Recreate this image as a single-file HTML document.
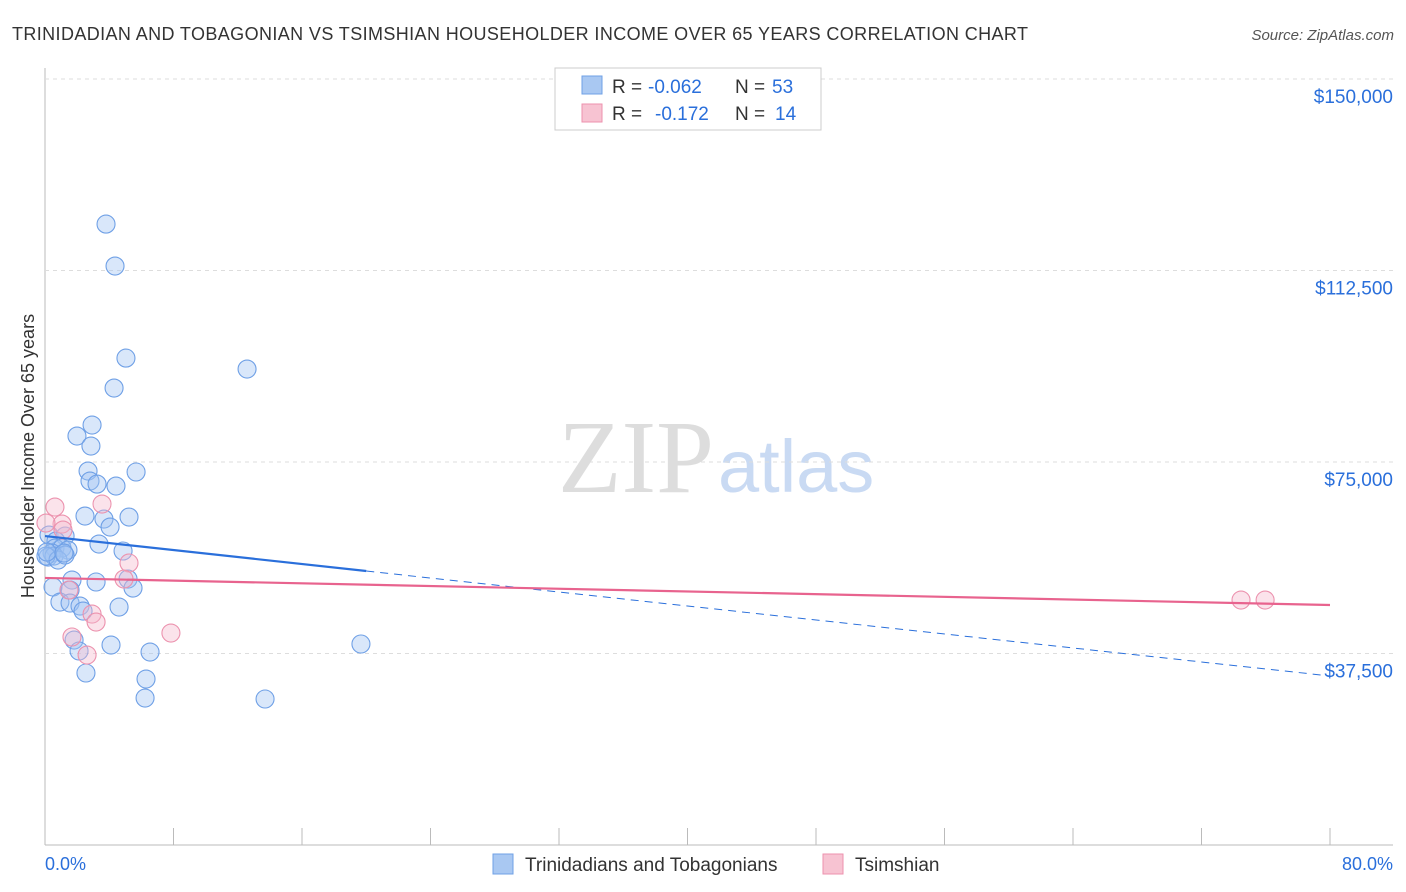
<!DOCTYPE html>
<html><head><meta charset="utf-8"><style>
body{margin:0;background:#fff;font-family:"Liberation Sans",sans-serif;}
svg{display:block}
</style></head><body>
<svg id="chart" width="1406" height="892">
<text x="12" y="40" font-size="18" fill="#333" textLength="1016">TRINIDADIAN AND TOBAGONIAN VS TSIMSHIAN HOUSEHOLDER INCOME OVER 65 YEARS CORRELATION CHART</text>
<text x="1394" y="40" font-size="15" fill="#555" font-style="italic" text-anchor="end">Source: ZipAtlas.com</text>
<text x="714" y="492" font-size="104" fill="#ddd" text-anchor="end" font-family="Liberation Serif,serif">ZIP</text>
<text x="718" y="492" font-size="74" fill="#c9daf3">atlas</text>
<text transform="translate(34,456) rotate(-90)" font-size="18" fill="#333" text-anchor="middle">Householder Income Over 65 years</text>
<g id="grid"></g><g id="pts"></g><g id="lines"></g>
<g>
<rect x="555" y="68" width="266" height="62" fill="#fff" stroke="#ccc"/>
<rect x="582" y="76" width="20" height="18" fill="#a9c8f2" stroke="#6fa0e6"/>
<rect x="582" y="104" width="20" height="18" fill="#f7c3d2" stroke="#ec92ae"/>
<text y="93" font-size="19" fill="#333"><tspan x="612">R =</tspan><tspan x="648" fill="#2a6fdb">-0.062</tspan><tspan x="735">N =</tspan><tspan x="772" fill="#2a6fdb">53</tspan></text>
<text y="120" font-size="19" fill="#333"><tspan x="612">R =</tspan><tspan x="655" fill="#2a6fdb">-0.172</tspan><tspan x="735">N =</tspan><tspan x="775" fill="#2a6fdb">14</tspan></text>
</g>
<g>
<rect x="493" y="854" width="20" height="20" fill="#a9c8f2" stroke="#6fa0e6"/>
<text x="525" y="871" font-size="19" fill="#333">Trinidadians and Tobagonians</text>
<rect x="823" y="854" width="20" height="20" fill="#f7c3d2" stroke="#ec92ae"/>
<text x="855" y="871" font-size="19" fill="#333">Tsimshian</text>
</g>
<text x="45" y="870" font-size="18" fill="#2a6fdb">0.0%</text>
<text x="1393" y="870" font-size="18" fill="#2a6fdb" text-anchor="end">80.0%</text>
</svg>
<script>
const yTicks=[150000,112500,75000,37500];
const yTickLabels=["$150,000","$112,500","$75,000","$37,500"];
const blueX=[3.80,4.36,5.04,4.30,12.58,2.93,1.99,2.86,2.68,5.67,2.80,3.24,4.42,2.49,5.23,3.67,4.05,0.25,1.25,0.68,3.36,0.62,1.06,1.43,0.44,4.86,0.19,0.56,1.68,3.18,5.17,0.50,5.48,1.56,0.93,1.56,2.18,2.37,4.61,1.81,2.12,4.11,6.54,2.55,6.29,6.23,13.70,19.67,0.06,0.81,1.25,0.12,1.18];
const blueY=[121590,113370,95350,89480,93200,82240,80080,78130,73230,73040,71270,70680,70290,64420,64220,63830,62260,60700,60500,59520,58940,58150,58150,57760,57170,57570,56390,56590,51890,51500,52080,50520,50320,49930,47580,47380,46790,45820,46600,40140,37990,39160,37790,33680,32500,28780,28590,39360,56590,55800,56780,57370,57170];
const pinkX=[0.62,1.06,3.55,1.12,5.23,0.06,4.92,1.49,2.93,3.18,1.68,2.62,7.84,74.46,75.96];
const pinkY=[66180,62850,66770,61680,55220,63050,52080,49930,45230,43660,40730,37200,41510,47970,47970];
const blueTrend=[60500,33100];
const pinkTrend=[52300,47000];
const NS="http://www.w3.org/2000/svg";
const xs=v=>45+v/80*1285;
const ys=v=>845-v/37500*191.5;
function mk(t,a,p){const e=document.createElementNS(NS,t);for(const k in a)e.setAttribute(k,a[k]);p.appendChild(e);return e;}
const grid=document.getElementById('grid');
const ax1=mk('line',{x1:45,y1:68,x2:45,y2:845,stroke:'#bbb'},grid);


const ax2=mk('line',{x1:45,y1:845,x2:1393,y2:845,stroke:'#bbb'},grid);


for(let i=0;i<=10;i++){const t=mk('line',{x1:xs(i*8),x2:xs(i*8),y1:828,y2:845,stroke:'#bbb'},grid);

}
yTicks.forEach((v,i)=>{const g=mk('line',{x1:45,x2:1393,y1:ys(v),y2:ys(v),stroke:'#ddd','stroke-dasharray':'4,4'},grid);


const t=mk('text',{x:1393,y:ys(v)+24,'font-size':19,fill:'#2a6fdb','text-anchor':'end'},grid);t.textContent=yTickLabels[i];

});
const pts=document.getElementById('pts');
blueX.forEach((x,i)=>{const c=mk('circle',{cx:xs(x),cy:ys(blueY[i]),r:9,fill:'rgba(160,196,242,0.4)',stroke:'#6fa0e6','stroke-width':1.1},pts);

});
pinkX.forEach((x,i)=>{const c=mk('circle',{cx:xs(x),cy:ys(pinkY[i]),r:9,fill:'rgba(245,185,205,0.4)',stroke:'#ec92ae','stroke-width':1.1},pts);

});
const L=document.getElementById('lines');
const bx=20;const bmid=blueTrend[0]+(blueTrend[1]-blueTrend[0])*bx/80;
const l1=mk('line',{x1:xs(0),y1:ys(blueTrend[0]),x2:xs(bx),y2:ys(bmid),stroke:'#2a6fdb','stroke-width':2.2},L);


const l2=mk('line',{x1:xs(bx),y1:ys(bmid),x2:xs(80),y2:ys(blueTrend[1]),stroke:'#2a6fdb','stroke-width':1,'stroke-dasharray':'8,6'},L);


const l3=mk('line',{x1:xs(0),y1:ys(pinkTrend[0]),x2:xs(80),y2:ys(pinkTrend[1]),stroke:'#e8638e','stroke-width':2.2},L);


</script>
</body></html>
